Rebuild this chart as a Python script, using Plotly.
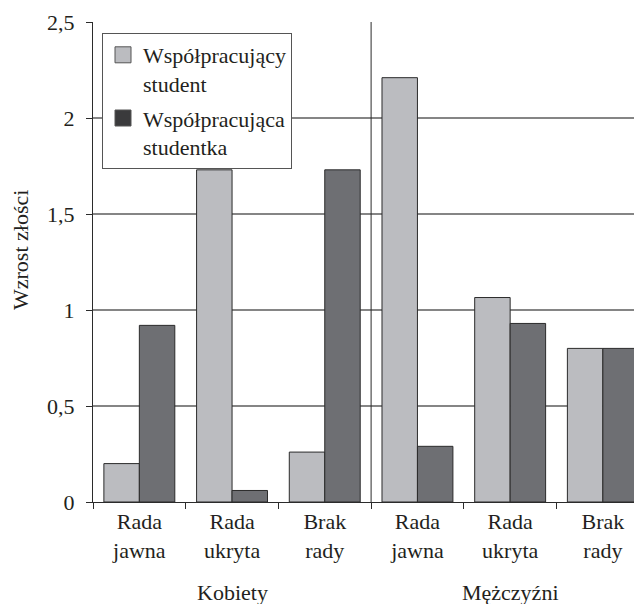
import plotly.graph_objects as go

# ---- data ----
groups = ["Kobiety", "Mężczyźni"]
conditions = ["Rada<br>jawna", "Rada<br>ukryta", "Brak<br>rady"]
series_names = ["Współpracujący<br>student", "Współpracująca<br>studentka"]
student_vals = [0.20, 1.73, 0.26, 2.21, 1.065, 0.80]
studentka_vals = [0.92, 0.06, 1.73, 0.29, 0.93, 0.80]
y_ticks = [0, 0.5, 1, 1.5, 2, 2.5]

FONT = "Liberation Serif"
FS = 22
TXT = "#231f20"
LIGHT = "#bbbcc0"
DARK = "#6e6f73"
LEG_DARK = "#3a3a3c"
EDGE = "#2b2b2b"

n = len(groups) * len(conditions)
xs = list(range(n))
ticktext = conditions * len(groups)

# page has an 8px body margin -> figure is 634x596 placed at (8,8)
W, H = 634, 596
L, T, B = 85, 14, 102
plot_w = W - L
plot_h = H - T - B

fig = go.Figure()
fig.add_trace(go.Bar(x=xs, y=student_vals, marker=dict(color=LIGHT, line=dict(color=EDGE, width=1)),
                     showlegend=False, name=series_names[0]))
fig.add_trace(go.Bar(x=xs, y=studentka_vals, marker=dict(color=DARK, line=dict(color=EDGE, width=1)),
                     showlegend=False, name=series_names[1]))
# legend entries
for nm, col, grp in [(series_names[0], LIGHT, "a"), (series_names[1], LEG_DARK, "b")]:
    fig.add_trace(go.Scatter(x=[None], y=[None], mode="markers", name=nm, legendgroup=grp,
                             marker=dict(symbol="square", size=20, color=col, line=dict(color="#555", width=1))))

# separator between groups
fig.add_shape(type="line", xref="x", yref="y", x0=len(conditions) - 0.5, x1=len(conditions) - 0.5,
              y0=0, y1=2.5, line=dict(color=EDGE, width=1))

# group labels
for i, g in enumerate(groups):
    fig.add_annotation(x=i * len(conditions) + (len(conditions) - 1) / 2, xref="x",
                       y=-90 / plot_h, yref="paper", text=g, showarrow=False,
                       font=dict(family=FONT, size=FS, color=TXT), yanchor="middle")

# y title
fig.add_annotation(x=(20 - 8 - L) / plot_w, xref="paper", y=(502 - 250) / plot_h, yref="paper",
                   text="Wzrost złości", textangle=-90, showarrow=False,
                   xanchor="center", yanchor="middle",
                   font=dict(family=FONT, size=FS, color=TXT))

fig.update_layout(
    width=W, height=H,
    margin=dict(l=L, r=0, t=T, b=B),
    paper_bgcolor="white", plot_bgcolor="white",
    barmode="group", bargap=0.235, bargroupgap=0,
    separators=", ",
    font=dict(family=FONT, size=FS, color=TXT),
    showlegend=True,
    legend=dict(x=(102 - 8 - L) / plot_w, y=(502 - 33) / plot_h, xanchor="left", yanchor="top",
                bgcolor="white", bordercolor="#555", borderwidth=1, valign="top", tracegroupgap=3,
                font=dict(family=FONT, size=FS, color=TXT)),
    xaxis=dict(range=[-0.5, -0.5 + plot_w / 92.7], tickmode="array", tickvals=xs, ticktext=ticktext,
               ticks="", showgrid=False, showline=True, linecolor=EDGE, linewidth=1, zeroline=False,
               tickfont=dict(family=FONT, size=FS, color=TXT),
               minor=dict(tickmode="array", tickvals=[i - 0.5 for i in range(n + 1)],
                          ticks="outside", ticklen=6, tickcolor=EDGE, tickwidth=1, showgrid=False)),
    yaxis=dict(range=[0, 2.5], tickmode="array", tickvals=y_ticks, ticks="outside", ticklen=6,
               tickcolor=EDGE, showline=True, linecolor=EDGE, linewidth=1, zeroline=False,
               showgrid=True, gridcolor="#858585", gridwidth=1.5, ticklabelstandoff=7,
               tickfont=dict(family=FONT, size=FS, color=TXT)),
)

fig.write_html("out.html")
